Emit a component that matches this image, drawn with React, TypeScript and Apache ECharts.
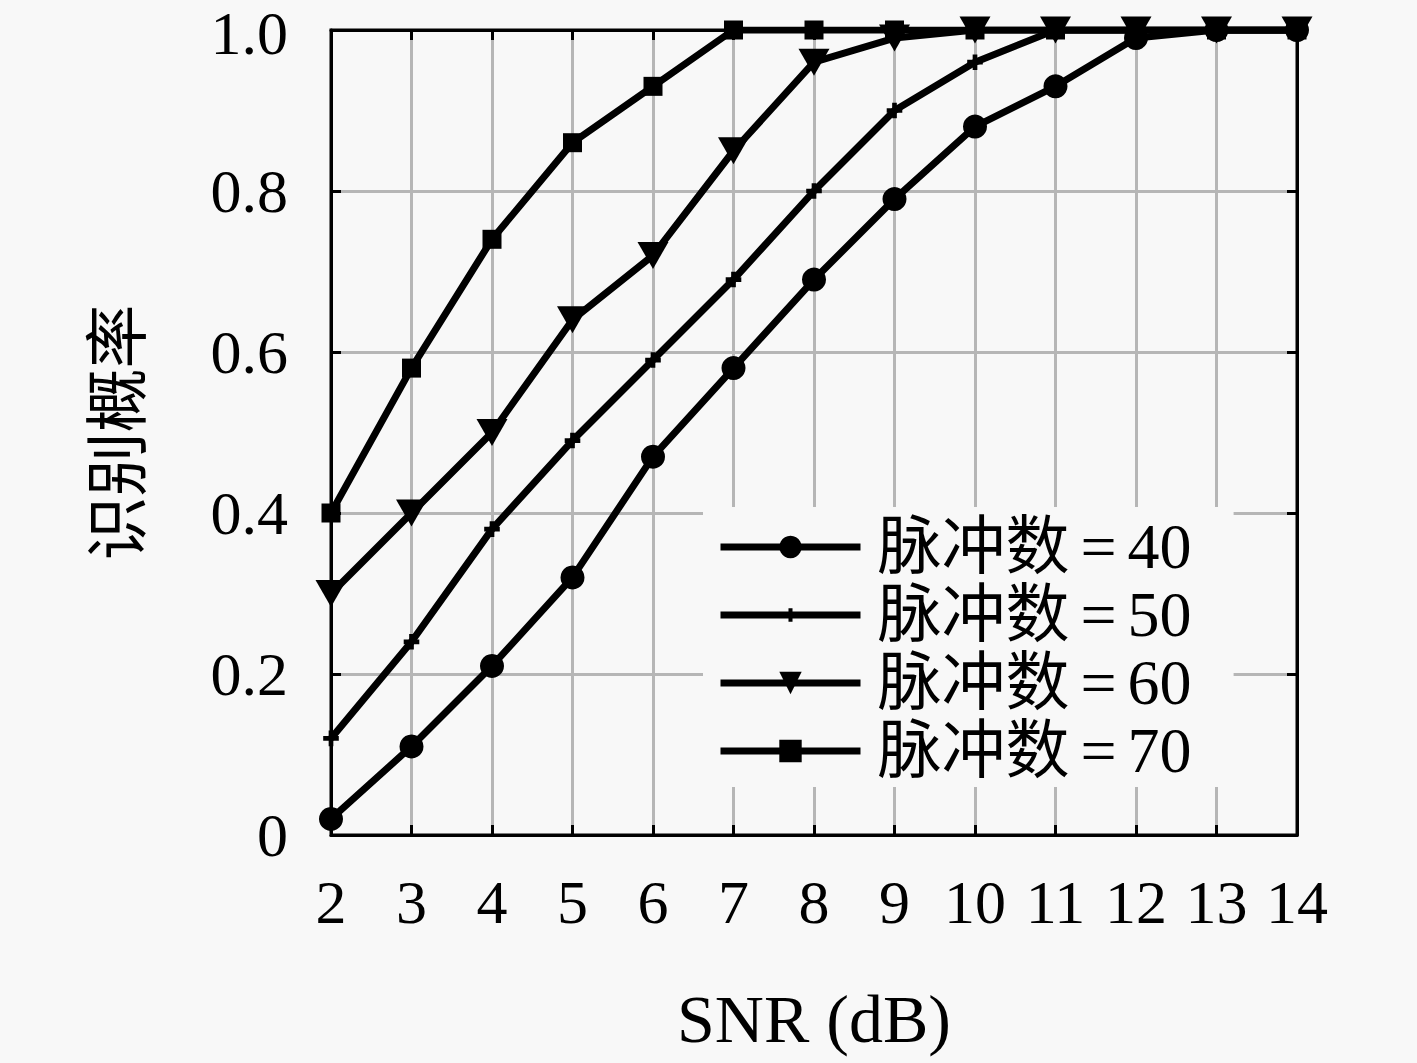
import React, { useEffect, useRef } from "react";
import * as echarts from "echarts";

const snr = [2, 3, 4, 5, 6, 7, 8, 9, 10, 11, 12, 13, 14];
const seriesNames = ["脉冲数=40", "脉冲数=50", "脉冲数=60", "脉冲数=70"];
const p40 = [0.02, 0.11, 0.21, 0.32, 0.47, 0.58, 0.69, 0.79, 0.88, 0.93, 0.99, 1.0, 1.0];
const p50 = [0.12, 0.24, 0.38, 0.49, 0.59, 0.69, 0.8, 0.9, 0.96, 1.0, 1.0, 1.0, 1.0];
const p60 = [0.3, 0.4, 0.5, 0.64, 0.72, 0.85, 0.96, 0.99, 1.0, 1.0, 1.0, 1.0, 1.0];
const p70 = [0.4, 0.58, 0.74, 0.86, 0.93, 1.0, 1.0, 1.0, 1.0, 1.0, 1.0, 1.0, 1.0];
const yTicks = ["0", "0.2", "0.4", "0.6", "0.8", "1.0"];

const FONT = "'Liberation Serif', 'Noto Sans CJK SC', serif";
const BG = "#f8f8f8";
const PLUS =
  "path://M-5,-5h0.01v0.01h-0.01Z M5,5h-0.01v-0.01h0.01Z M-0.9,-3H0.9V-0.9H3V0.9H0.9V3H-0.9V0.9H-3V-0.9H-0.9Z";

export default function App() {
  const ref = useRef<HTMLDivElement>(null);
  useEffect(() => {
    if (!ref.current) return;
    const chart = echarts.init(ref.current, undefined, { renderer: "svg" });
    const mk = (name: string, vals: number[], symbol: string, size: any, rotate = 0) => ({
      name,
      type: "line",
      data: snr.map((x, i) => [x, vals[i]]),
      symbol,
      symbolSize: size,
      symbolRotate: rotate,
      showAllSymbol: true,
      lineStyle: { color: "#000", width: 7 },
      itemStyle: { color: "#000" },
      emphasis: { disabled: true },
    });
    const tickIn = () => ({ show: true, inside: true, length: 10, lineStyle: { color: "#000", width: 3 } });
    const axLine = () => ({ show: true, onZero: false, lineStyle: { color: "#000", width: 3 } });
    const gridLine = { show: true, lineStyle: { color: "#b6b6b6", width: 3 } };
    chart.setOption({
      animation: false,
      backgroundColor: BG,
      grid: {
        left: 331,
        top: 30,
        width: 966,
        height: 805,
        show: true,
        borderColor: "#000",
        borderWidth: 3,
        containLabel: false,
        outerBoundsMode: "none",
      },
      xAxis: [
        {
          type: "value",
          min: 2,
          max: 14,
          interval: 1,
          name: "SNR (dB)",
          nameLocation: "middle",
          nameGap: 150,
          nameTextStyle: { fontFamily: FONT, fontSize: 68, color: "#000" },
          axisLine: axLine(),
          axisTick: tickIn(),
          axisLabel: { fontFamily: FONT, fontSize: 62, color: "#000", margin: 36 },
          splitLine: gridLine,
        },
        {
          type: "value",
          position: "top",
          min: 2,
          max: 14,
          interval: 1,
          axisLine: axLine(),
          axisTick: tickIn(),
          axisLabel: { show: false },
          splitLine: { show: false },
        },
      ],
      yAxis: [
        {
          type: "value",
          min: 0,
          max: 1,
          interval: 0.2,
          name: "识别概率",
          nameLocation: "middle",
          nameGap: 181,
          nameRotate: 90,
          nameTextStyle: { fontFamily: FONT, fontSize: 64, color: "#000" },
          axisLine: axLine(),
          axisTick: tickIn(),
          axisLabel: {
            fontFamily: FONT,
            fontSize: 62,
            lineHeight: 46,
            color: "#000",
            margin: 43,
            formatter: (v: number) => {
              const s = yTicks[Math.round(v / 0.2)];
              return v >= 0.999 ? `{t|${s}}` : s;
            },
            rich: {
              t: {
                fontFamily: FONT,
                fontSize: 62,
                lineHeight: 46,
                color: "#000",
                padding: [6, 0, 0, 0],
              },
            },
          },
          splitLine: gridLine,
        },
        {
          type: "value",
          position: "right",
          min: 0,
          max: 1,
          interval: 0.2,
          axisLine: axLine(),
          axisTick: tickIn(),
          axisLabel: { show: false },
          splitLine: { show: false },
        },
      ],
      legend: {
        orient: "vertical",
        left: 703,
        top: 507,
        padding: [8, 42, 4, 14],
        backgroundColor: BG,
        itemWidth: 140,
        itemHeight: 28,
        itemGap: 4,
        selectedMode: false,
        data: seriesNames,
        lineStyle: { width: 7, color: "#000" },
        formatter: (name: string) => {
          const parts = name.split("=");
          return `{c|${parts[0]}}{e|=}{n|${parts[1]}}`;
        },
        textStyle: {
          fontFamily: FONT,
          fontSize: 64,
          color: "#000",
          padding: [0, 0, 0, 12],
          rich: {
            c: { fontFamily: FONT, fontSize: 64, color: "#000" },
            e: { fontFamily: FONT, fontSize: 64, color: "#000", padding: [0, 11, 0, 11] },
            n: { fontFamily: FONT, fontSize: 64, color: "#000" },
          },
        },
      },
      series: [
        mk(seriesNames[0], p40, "circle", 24),
        mk(seriesNames[1], p50, PLUS, 26),
        mk(seriesNames[2], p60, "triangle", [31, 27], 180),
        mk(seriesNames[3], p70, "rect", 19),
      ],
    });
    return () => chart.dispose();
  }, []);
  return (
    <div
      ref={ref}
      style={{ position: "fixed", left: 0, top: 0, width: 1417, height: 1063 }}
    />
  );
}
